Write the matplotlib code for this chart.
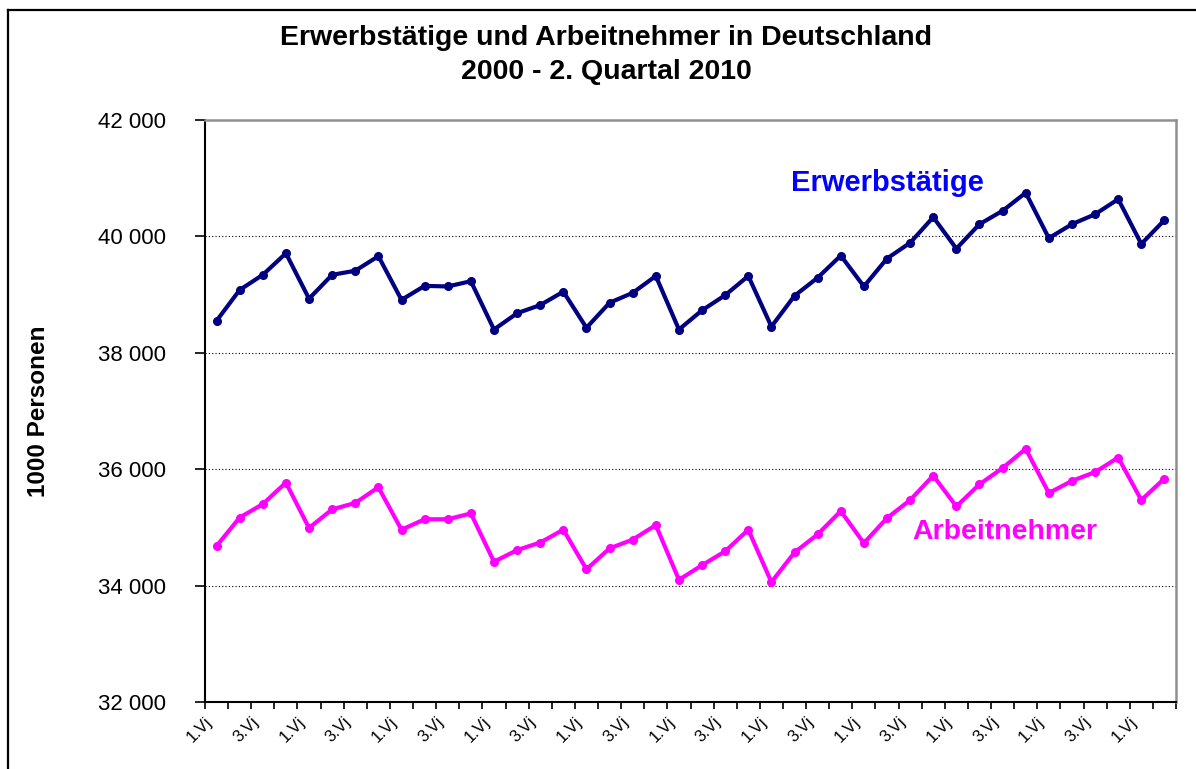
import matplotlib
matplotlib.use("Agg")
import matplotlib.pyplot as plt
import matplotlib.transforms as mtransforms
from matplotlib.lines import Line2D
from matplotlib.ticker import FuncFormatter

plt.rcParams['font.family'] = ['Liberation Sans', 'DejaVu Sans']

# Quartale 2000 Q1 .. 2010 Q2 (42 Werte), in 1000 Personen
quartal_labels = ["1.Vj", "3.Vj"] * 10 + ["1.Vj"]

erwerbstaetige = [38550, 39080, 39340, 39710, 38930, 39340, 39410, 39660,
                  38910, 39150, 39140, 39230, 38400, 38680, 38820, 39050,
                  38430, 38860, 39030, 39320, 38400, 38730, 38990, 39320,
                  38450, 38980, 39290, 39670, 39140, 39620, 39890, 40330,
                  39790, 40210, 40440, 40750, 39970, 40210, 40380, 40640,
                  39870, 40280]

arbeitnehmer = [34680, 35170, 35400, 35770, 34990, 35310, 35420, 35690,
                34960, 35140, 35140, 35240, 34410, 34610, 34740, 34960,
                34280, 34640, 34790, 35040, 34100, 34350, 34590, 34960,
                34060, 34570, 34880, 35280, 34730, 35160, 35470, 35890,
                35360, 35740, 36020, 36350, 35590, 35800, 35950, 36200,
                35470, 35840]

y_ticks = [32000, 34000, 36000, 38000, 40000, 42000]

W, H = 1196, 769
fig = plt.figure(figsize=(W / 100, H / 100), dpi=100)
ax = fig.add_axes([205 / W, 1 - 702 / H, (1176 - 205) / W, (702 - 120) / H])

xs = list(range(len(erwerbstaetige)))
ax.plot(xs, erwerbstaetige, color="#000080", lw=3, marker="o", ms=5.5, zorder=3)
ax.plot(xs, arbeitnehmer, color="#FF00FF", lw=3, marker="o", ms=5.5, zorder=3)

ax.set_xlim(-0.5, len(xs) - 0.5)
ax.set_ylim(32000, 42000)

# gridlines
for yv in y_ticks[1:-1]:
    ax.axhline(yv, color="black", lw=0.8, ls=(0, (1, 2)), zorder=1)

ax.set_yticks(y_ticks)
ax.yaxis.set_major_formatter(FuncFormatter(lambda v, p: "{:,}".format(int(v)).replace(",", " ")))
ax.tick_params(axis="y", direction="out", length=7, width=1.2, labelsize=16, pad=21)

# ticks between categories, labels in the middle
ax.set_xticks([i - 0.5 for i in range(len(xs) + 1)])
ax.set_xticklabels([])
ax.tick_params(axis="x", which="major", direction="out", length=5, width=1.2)
ax.set_xticks(xs[::2], minor=True)
ax.set_xticklabels(quartal_labels, minor=True, rotation=45, ha="right", va="top",
                   rotation_mode="anchor", fontsize=12)
ax.tick_params(axis="x", which="minor", length=0, pad=9)
shift = mtransforms.ScaledTranslation(-12 / 100, 0, fig.dpi_scale_trans)
for lab in ax.get_xticklabels(minor=True):
    lab.set_transform(lab.get_transform() + shift)

for s in ["left", "bottom"]:
    ax.spines[s].set_linewidth(1.5)
for s in ["top", "right"]:
    ax.spines[s].set_color("#909090")
    ax.spines[s].set_linewidth(1.8)

ax.set_ylabel("1000 Personen", fontsize=17.5, fontweight="bold")
ax.yaxis.set_label_coords((50 - 205) / (1176 - 205), 0.5)

ax.text(29.0, 40920, "Erwerbstätige", color="#0000FF", fontsize=21, fontweight="bold",
        ha="center", va="center")
ax.text(34.1, 34920, "Arbeitnehmer", color="#FF00FF", fontsize=20.5, fontweight="bold",
        ha="center", va="center")

fig.text(606 / W, 1 - 38 / H, "Erwerbstätige und Arbeitnehmer in Deutschland",
         fontsize=20.5, fontweight="bold", ha="center", va="center")
fig.text(606 / W, 1 - 72 / H, "2000 - 2. Quartal 2010",
         fontsize=20.5, fontweight="bold", ha="center", va="center")

# outer frame of the chart (cut at right and bottom)
fig.add_artist(Line2D([8 / W, 8 / W], [0, 1 - 10 / H], color="black", lw=1.6,
                      transform=fig.transFigure))
fig.add_artist(Line2D([8 / W, 1], [1 - 10 / H, 1 - 10 / H], color="black", lw=1.6,
                      transform=fig.transFigure))

fig.savefig("out.png", dpi=100)
